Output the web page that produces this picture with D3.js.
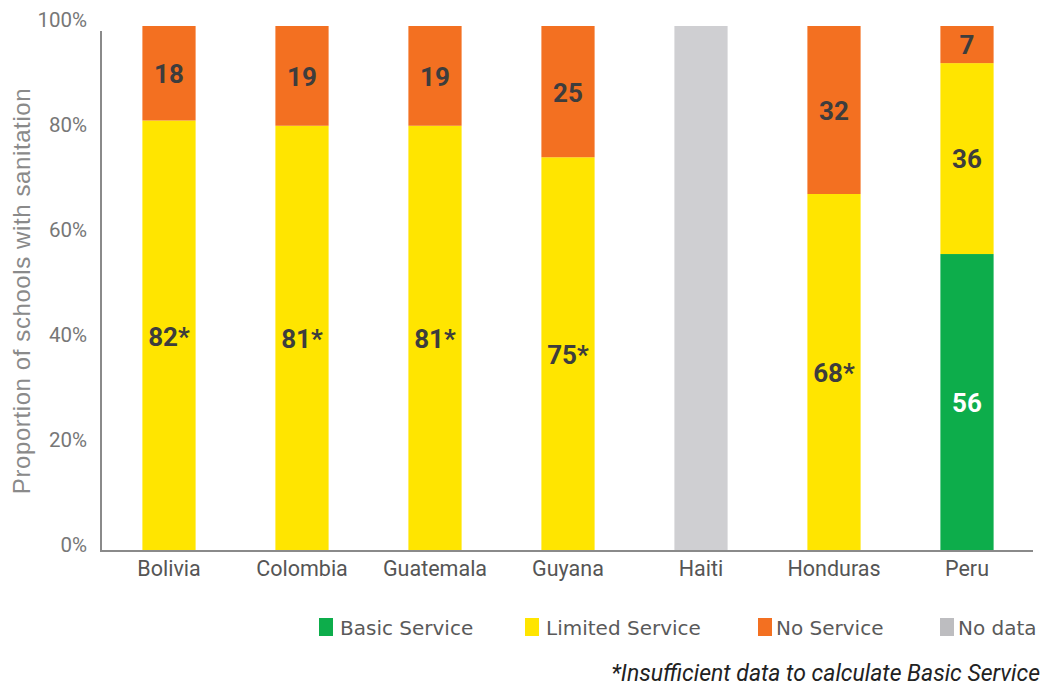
<!DOCTYPE html>
<html><head><meta charset="utf-8">
<script src="https://cdn.jsdelivr.net/npm/d3@7/dist/d3.min.js"></script>
<style>body{margin:0;background:#fff}</style>
</head><body><svg id="c" width="1044" height="688"></svg>
<script>
const countries = ["Bolivia","Colombia","Guatemala","Guyana","Haiti","Honduras","Peru"];
const basic   = [0, 0, 0, 0, 0, 0, 56];
const limited = [82, 81, 81, 75, 0, 68, 36];
const noServ  = [18, 19, 19, 25, 0, 32, 7];
const noData  = [0, 0, 0, 0, 100, 0, 0];
const starred = [true, true, true, true, false, true, false];
const yTicks = [0, 20, 40, 60, 80, 100];
const seriesNames = ["Basic Service","Limited Service","No Service","No data"];
const seriesColors = ["#0DAD4B","#FFE500","#F37021","#CFCFD2"];
const legendColors = ["#0DAD4B","#FFE500","#F37021","#BDBDC0"];

const rows = countries.map((c,i)=>({country:c, "Basic Service":basic[i], "Limited Service":limited[i], "No Service":noServ[i], "No data":noData[i], star:starred[i]}));

const svg = d3.select("#c");
const x = d3.scaleBand().domain(countries).range([102.5,1033.5]).paddingInner(0.6).paddingOuter(0.3);
const y = d3.scaleLinear().domain([0,1]).range([551,26]);

const stack = d3.stack().keys(seriesNames).offset(d3.stackOffsetExpand);
const stacked = stack(rows);

const g = svg.append("g");
stacked.forEach((s,si)=>{
  g.selectAll(null).data(s.filter(d=>d[1]-d[0]>0)).enter().append("rect")
    .attr("x", d=>x(d.data.country)).attr("width", x.bandwidth())
    .attr("y", d=>y(d[1])).attr("height", d=>y(d[0])-y(d[1]))
    .attr("fill", seriesColors[si]);
  if (seriesNames[si] !== "No data") {
    g.selectAll(null).data(s.filter(d=>d[1]-d[0]>0)).enter().append("text")
      .attr("x", d=>x(d.data.country)+x.bandwidth()/2)
      .attr("y", d=>(y(d[0])+y(d[1]))/2)
      .attr("dy","0.38em")
      .attr("text-anchor","middle")
      .attr("font-family","Roboto, sans-serif").attr("font-weight","bold").attr("font-size",26)
      .attr("fill", si===0 ? "#ffffff" : "#3d3d3d")
      .text(d=>d.data[seriesNames[si]] + (si===1 && d.data.star ? "*" : ""));
  }
});

// axes
const yAxis = d3.axisLeft(y).tickValues(yTicks.map(v=>v/100)).tickFormat(v=>Math.round(v*100)+"%").tickSize(0).tickPadding(14);
const ya = svg.append("g").attr("transform","translate(101,0)").call(yAxis);
ya.select(".domain").remove();
ya.selectAll("text").attr("font-family","Roboto, sans-serif").attr("font-size",20.5).attr("fill","#777").attr("dy","0.0em");
svg.append("line").attr("x1",101).attr("x2",101).attr("y1",31).attr("y2",552).attr("stroke","#8a8a8a").attr("stroke-width",2);

const xAxis = d3.axisBottom(x).tickSize(0).tickPadding(10);
const xa = svg.append("g").attr("transform","translate(0,551)").call(xAxis);
xa.select(".domain").remove();
xa.selectAll("text").attr("font-family","Roboto, sans-serif").attr("font-size",21.5).attr("fill","#555");
svg.append("line").attr("x1",100).attr("x2",1033).attr("y1",551).attr("y2",551).attr("stroke","#8a8a8a").attr("stroke-width",2);

svg.append("text").attr("transform","translate(30,291) rotate(-90)").attr("text-anchor","middle")
  .attr("font-family","Liberation Sans, Arial, sans-serif").attr("font-size",24).attr("letter-spacing",0.6).attr("fill","#8a8a8a")
  .text("Proportion of schools with sanitation");

// legend
const legX = [319, 525, 758, 940];
seriesNames.forEach((n,i)=>{
  svg.append("rect").attr("x",legX[i]).attr("y",618).attr("width",14).attr("height",18).attr("fill",legendColors[i]);
  svg.append("text").attr("x",legX[i]+ (i>=2?18:21)).attr("y",635).attr("font-family","DejaVu Sans, sans-serif")
    .attr("font-size",20).attr("fill","#5a5a5a").text(n);
});
svg.append("text").attr("x",1040).attr("y",681).attr("text-anchor","end").attr("font-family","Roboto, sans-serif")
  .attr("font-style","italic").attr("font-size",23).attr("fill","#222").text("*Insufficient data to calculate Basic Service");
</script></body></html>
